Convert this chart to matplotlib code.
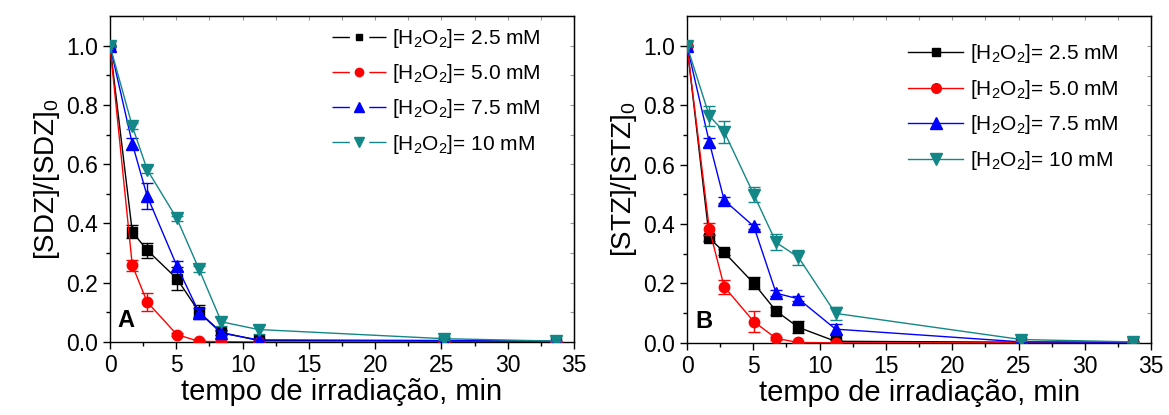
import matplotlib
matplotlib.use("Agg")
import matplotlib.pyplot as plt
from matplotlib.lines import Line2D

plt.rcParams['font.family'] = ['Liberation Sans', 'DejaVu Sans']
plt.rcParams['mathtext.fontset'] = 'custom'
plt.rcParams['mathtext.rm'] = 'Liberation Sans'
plt.rcParams['mathtext.it'] = 'Liberation Sans:italic'
plt.rcParams['mathtext.bf'] = 'Liberation Sans:bold'

# tempo de irradiação (min)
tempo = [0, 1.68, 2.8, 5.04, 6.72, 8.4, 11.2, 25.2, 33.6]

series_labels = ["[H$_2$O$_2$]= 2.5 mM", "[H$_2$O$_2$]= 5.0 mM",
                 "[H$_2$O$_2$]= 7.5 mM", "[H$_2$O$_2$]= 10 mM"]
colors = ["#000000", "#ff0000", "#0000ff", "#138787"]
markers = ["s", "o", "^", "v"]
msizes = [6.5, 7.5, 8.5, 8.5]

# painel A: SDZ
sdz_25 = [1.0, 0.372, 0.31, 0.214, 0.101, 0.032, 0.005, 0.002, 0.001]
sdz_50 = [1.0, 0.259, 0.135, 0.025, 0.002, 0.001, 0.0, 0.0, 0.0]
sdz_75 = [1.0, 0.670, 0.493, 0.257, 0.099, 0.030, 0.007, 0.005, 0.003]
sdz_10 = [1.0, 0.729, 0.582, 0.417, 0.245, 0.068, 0.042, 0.011, 0.003]
sdz_25_err = [0, 0.022, 0.025, 0.04, 0.023, 0.01, 0.004, 0, 0]
sdz_50_err = [0, 0.018, 0.032, 0.006, 0.003, 0.002, 0, 0, 0]
sdz_75_err = [0, 0.018, 0.044, 0.017, 0.015, 0.008, 0.004, 0, 0]
sdz_10_err = [0, 0.01, 0.012, 0.01, 0.01, 0.015, 0.015, 0.005, 0]

# painel B: STZ
stz_25 = [1.0, 0.353, 0.305, 0.200, 0.107, 0.052, 0.005, 0.002, 0.001]
stz_50 = [1.0, 0.384, 0.189, 0.071, 0.015, 0.001, 0.0, 0.0, 0.0]
stz_75 = [1.0, 0.676, 0.480, 0.392, 0.167, 0.148, 0.046, 0.003, 0.002]
stz_10 = [1.0, 0.764, 0.711, 0.499, 0.338, 0.288, 0.099, 0.011, 0.003]
stz_25_err = [0, 0.01, 0.01, 0.02, 0.015, 0.02, 0.005, 0, 0]
stz_50_err = [0, 0.021, 0.024, 0.036, 0.006, 0.002, 0, 0, 0]
stz_75_err = [0, 0.015, 0.01, 0.008, 0.01, 0.008, 0.017, 0, 0]
stz_10_err = [0, 0.033, 0.037, 0.025, 0.027, 0.025, 0.022, 0.004, 0]

panels = [
    ([sdz_25, sdz_50, sdz_75, sdz_10], [sdz_25_err, sdz_50_err, sdz_75_err, sdz_10_err],
     "[SDZ]/[SDZ]$_0$", "A"),
    ([stz_25, stz_50, stz_75, stz_10], [stz_25_err, stz_50_err, stz_75_err, stz_10_err],
     "[STZ]/[STZ]$_0$", "B"),
]

xmajor = list(range(0, 36, 5))
xminor = [2.5 + 5 * k for k in range(7)]
ymajor = [0, 0.2, 0.4, 0.6, 0.8, 1.0]
yminor = [0.1, 0.3, 0.5, 0.7, 0.9]

fig = plt.figure(figsize=(11.69, 4.15), dpi=100)
ax_a = fig.add_axes([0.0941, 0.176, 0.397, 0.785])
ax_b = fig.add_axes([0.5877, 0.174, 0.397, 0.787])

for ax, (vals, errs, ylab, tag) in zip([ax_a, ax_b], panels):
    for i in range(4):
        ax.errorbar(tempo, vals[i], yerr=errs[i], color=colors[i], marker=markers[i],
                    ms=msizes[i], lw=1, elinewidth=1, capsize=4, capthick=1,
                    zorder=2 + i)
    ax.set_xlim(0, 35)
    ax.set_ylim(0, 1.1)
    ax.set_xticks(xmajor)
    ax.set_xticks(xminor, minor=True)
    ax.set_yticks(ymajor)
    ax.set_yticks(yminor, minor=True)
    ax.yaxis.set_major_formatter(matplotlib.ticker.FormatStrFormatter('%.1f'))
    ax.tick_params(which='both', direction='out', labelsize=16.5, width=1)
    ax.tick_params(which='major', length=5)
    ax.tick_params(which='minor', length=3)
    for s in ax.spines.values():
        s.set_linewidth(1)
    # faint inward ticks on top and right
    top = ax.secondary_xaxis('top')
    top.set_xticks(xmajor + xminor)
    top.tick_params(direction='in', length=3, color='#999999', labeltop=False)
    right = ax.secondary_yaxis('right')
    right.set_yticks(ymajor + yminor)
    right.tick_params(direction='in', length=3, color='#999999', labelright=False)
    ax.set_xlabel("tempo de irradiação, min", fontsize=21, labelpad=1)
    ax.set_ylabel(ylab, fontsize=20, labelpad=3)
    ax.text(0.017, 0.03, tag, transform=ax.transAxes, fontsize=17,
            fontweight='bold', ha='left', va='bottom')

# legenda A: linha interrompida em volta do marcador
handles_a = [Line2D([], [], color=colors[i], marker=markers[i], ms=msizes[i] - 1.5,
                    lw=1, linestyle=(0, (12.5, 14))) for i in range(4)]
ax_a.legend(handles_a, series_labels, loc='upper left', bbox_to_anchor=(0.478, 0.966),
            frameon=False, fontsize=15, handlelength=2.6, handletextpad=0.3,
            labelspacing=0.58, borderaxespad=0, borderpad=0, numpoints=1)

handles_b = [Line2D([], [], color=colors[i], marker=markers[i], ms=msizes[i] - 0.5,
                    lw=1) for i in range(4)]
ax_b.legend(handles_b, series_labels, loc='upper left', bbox_to_anchor=(0.476, 0.92),
            frameon=False, fontsize=15, handlelength=2.65, handletextpad=0.32,
            labelspacing=0.6, borderaxespad=0, borderpad=0, numpoints=1)

fig.savefig("out.png", dpi=100)
